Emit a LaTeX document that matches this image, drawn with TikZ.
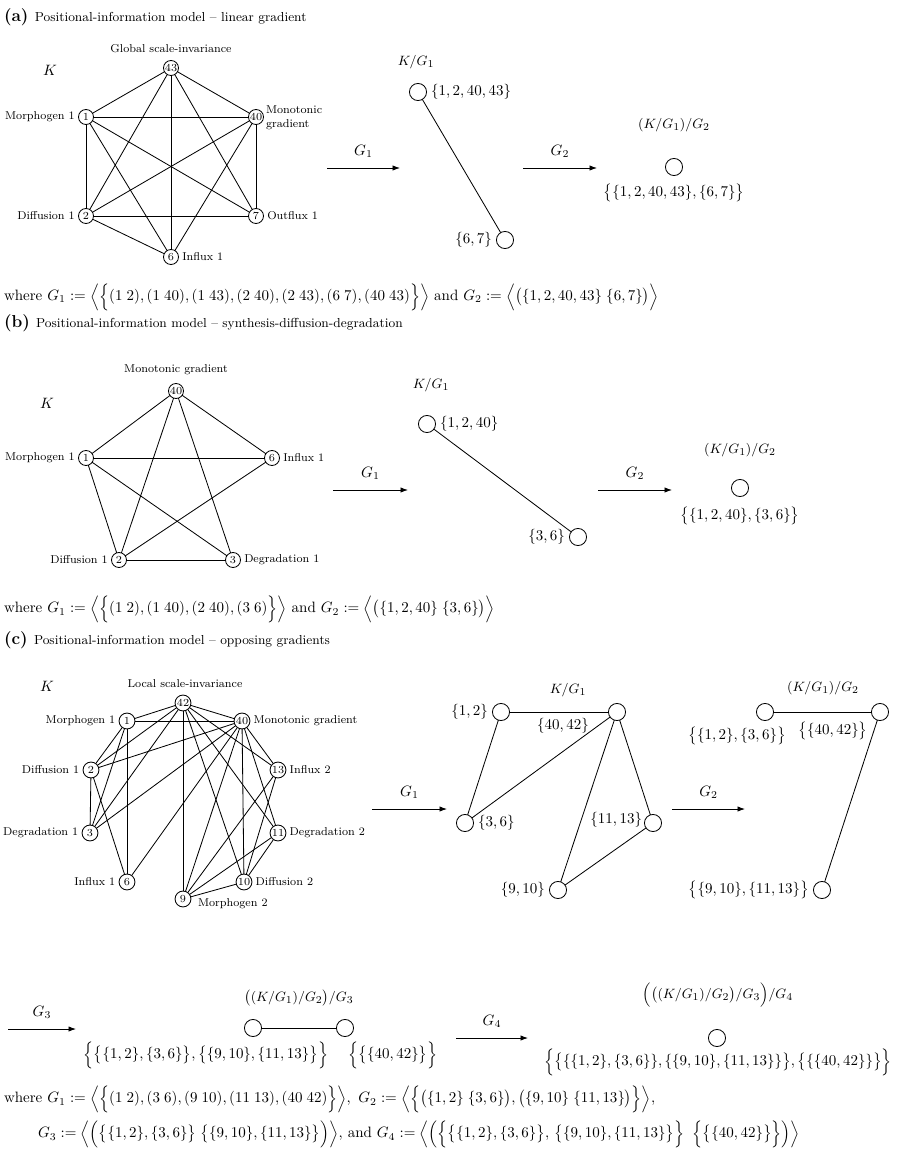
\documentclass[tikz,border=0pt]{standalone}
\usepackage{amsmath}
\usetikzlibrary{arrows.meta,positioning}
\newcommand{\hdlab}[1]{{\fontsize{11.5}{13}\selectfont\bfseries #1}}
\newcommand{\hdtxt}[1]{{\fontsize{8.7}{10}\selectfont #1}}
\begin{document}
\begin{tikzpicture}[x=0.6667pt,y=-0.6667pt,
  every node/.style={inner sep=0pt,outer sep=0pt},
  vtx/.style={circle,draw,line width=0.55pt,minimum size=10pt,inner sep=0pt,font=\fontsize{7.2}{8}\selectfont},
  vtxc/.style={vtx,minimum size=10.6pt},
  qv/.style={circle,draw,line width=0.55pt,minimum size=11.4pt,inner sep=0pt},
  lbl/.style={font=\fontsize{7.6}{9.2}\selectfont},
  setl/.style={font=\fontsize{10}{12}\selectfont},
  qname/.style={font=\fontsize{9.4}{11}\selectfont},
  ln/.style={line width=0.55pt},
  arr/.style={line width=0.55pt,-{Latex[length=5pt,width=3.6pt]}},
  glab/.style={font=\fontsize{10}{12}\selectfont,above=7pt,midway},
  where/.style={font=\fontsize{10}{12}\selectfont,anchor=west}
]
\useasboundingbox (0,0) rectangle (897,1150);

%%%%%%%%%%%%%%%% (a)
\node[anchor=west] (hA) at (4,17) {\hdlab{(a)}\hspace{4.2pt}\hdtxt{Positional-information model -- linear gradient}};
\node (KA) at (50,70) {$K$};
\node[lbl] (gsi) at (171,49) {Global scale-invariance};
\node[vtx] (a43) at (171,68) {43};
\node[vtx] (a1) at (86,117) {1};
\node[vtx] (a40) at (256,117) {40};
\node[vtx] (a2) at (86,216) {2};
\node[vtx] (a7) at (256,216) {7};
\node[vtx] (a6) at (171,257) {6};
\node[lbl,left=2.5pt of a1] (la1) {Morphogen 1};
\node[lbl,anchor=north west,align=left] (la40) at (266,106) {Monotonic\\gradient};
\node[lbl,left=2.5pt of a2] (la2) {Diffusion 1};
\node[lbl,right=2.5pt of a7] (la7) {Outflux 1};
\node[lbl,right=2.5pt of a6] (la6) {Influx 1};
\foreach \u/\v in {a43/a1,a43/a40,a43/a2,a43/a7,a43/a6,a1/a40,a1/a2,a1/a7,a1/a6,a40/a2,a40/a7,a40/a6,a2/a7,a2/a6}
  \draw[ln] (\u) -- (\v);

\coordinate (ag1s) at (327,168); \coordinate (ag1e) at (400,168);
\draw[arr] (ag1s) -- node[glab] (ag1l) {$G_1$} (ag1e);
\node[qname] (KG1a) at (416,62) {$K/G_1$};
\node[qv] (qa1) at (418,92) {};
\node[qv] (qa2) at (505,240) {};
\node[setl,right=3pt of qa1] (lqa1) {$\{1,2,40,43\}$};
\node[setl,left=3pt of qa2] (lqa2) {$\{6,7\}$};
\draw[ln] (qa1) -- (qa2);
\coordinate (ag2s) at (523,168); \coordinate (ag2e) at (597,168);
\draw[arr] (ag2s) -- node[glab] (ag2l) {$G_2$} (ag2e);
\node[qname] (KG2a) at (674,125) {$(K/G_1)/G_2$};
\node[qv] (ra1) at (674,167) {};
\node[setl] (lra1) at (674,193) {$\big\{\{1,2,40,43\},\{6,7\}\big\}$};
\node[where] (wA) at (4,297) {where $G_1 := \Big\langle\Big\{(1\;2),(1\;40),(1\;43),(2\;40),(2\;43),(6\;7),(40\;43)\Big\}\Big\rangle$ and $G_2 := \Big\langle\big(\{1,2,40,43\}\;\{6,7\}\big)\Big\rangle$};

%%%%%%%%%%%%%%%% (b)
\node[anchor=west] (hB) at (4,323) {\hdlab{(b)}\hspace{4.2pt}\hdtxt{Positional-information model -- synthesis-diffusion-degradation}};
\node (KB) at (47,403) {$K$};
\node[lbl] (mgb) at (176,370) {Monotonic gradient};
\node[vtx] (b40) at (176,391) {40};
\node[vtx] (b1) at (86,458) {1};
\node[vtx] (b6) at (272,458) {6};
\node[vtx] (b2) at (119,560) {2};
\node[vtx] (b3) at (233,560) {3};
\node[lbl,left=2.5pt of b1] (lb1) {Morphogen 1};
\node[lbl,right=2.5pt of b6] (lb6) {Influx 1};
\node[lbl,left=2.5pt of b2] (lb2) {Diffusion 1};
\node[lbl,right=2.5pt of b3] (lb3) {Degradation 1};
\foreach \u/\v in {b40/b1,b40/b6,b40/b2,b40/b3,b1/b6,b1/b2,b1/b3,b2/b6,b2/b3}
  \draw[ln] (\u) -- (\v);

\coordinate (bg1s) at (333,490); \coordinate (bg1e) at (408,490);
\draw[arr] (bg1s) -- node[glab] (bg1l) {$G_1$} (bg1e);
\node[qname] (KG1b) at (431,385) {$K/G_1$};
\node[qv] (qb1) at (427,424) {};
\node[qv] (qb2) at (578,537) {};
\node[setl,right=3pt of qb1] (lqb1) {$\{1,2,40\}$};
\node[setl,left=3pt of qb2] (lqb2) {$\{3,6\}$};
\draw[ln] (qb1) -- (qb2);
\coordinate (bg2s) at (598,490); \coordinate (bg2e) at (672,490);
\draw[arr] (bg2s) -- node[glab] (bg2l) {$G_2$} (bg2e);
\node[qname] (KG2b) at (740,450) {$(K/G_1)/G_2$};
\node[qv] (rb1) at (740,488) {};
\node[setl] (lrb1) at (740,516) {$\big\{\{1,2,40\},\{3,6\}\big\}$};
\node[where] (wB) at (4,609) {where $G_1 := \Big\langle\Big\{(1\;2),(1\;40),(2\;40),(3\;6)\Big\}\Big\rangle$ and $G_2 := \Big\langle\big(\{1,2,40\}\;\{3,6\}\big)\Big\rangle$};

%%%%%%%%%%%%%%%% (c)
\node[anchor=west] (hC) at (4,640) {\hdlab{(c)}\hspace{4.2pt}\hdtxt{Positional-information model -- opposing gradients}};
\node (KC) at (47,686) {$K$};
\node[lbl] (lsi) at (185,684) {Local scale-invariance};
\node[vtxc] (c42) at (183,703) {42};
\node[vtxc] (c1) at (127,721) {1};
\node[vtxc] (c40) at (242,721) {40};
\node[vtxc] (c2) at (91,770) {2};
\node[vtxc] (c13) at (278,770) {13};
\node[vtxc] (c3) at (90,833) {3};
\node[vtxc] (c11) at (278,833) {11};
\node[vtxc] (c6) at (127,882) {6};
\node[vtxc] (c10) at (244,882) {10};
\node[vtxc] (c9) at (183,899) {9};
\node[lbl,left=2.5pt of c1] (lc1) {Morphogen 1};
\node[lbl,right=2.5pt of c40] (lc40) {Monotonic gradient};
\node[lbl,left=2.5pt of c2] (lc2) {Diffusion 1};
\node[lbl,right=2.5pt of c13] (lc13) {Influx 2};
\node[lbl,left=2.5pt of c3] (lc3) {Degradation 1};
\node[lbl,right=2.5pt of c11] (lc11) {Degradation 2};
\node[lbl,left=2.5pt of c6] (lc6) {Influx 1};
\node[lbl,right=2.5pt of c10] (lc10) {Diffusion 2};
\node[lbl,anchor=west] (lc9) at (198,904) {Morphogen 2};
\foreach \u/\v in {c42/c1,c42/c40,c42/c2,c42/c3,c42/c9,c42/c10,c42/c11,c42/c13,
  c40/c1,c40/c2,c40/c3,c40/c6,c40/c9,c40/c10,c40/c11,c40/c13,
  c1/c2,c1/c3,c1/c6,c2/c3,c2/c6,c9/c10,c9/c11,c9/c13,c10/c11,c10/c13}
  \draw[ln] (\u) -- (\v);

\coordinate (cg1s) at (372,809); \coordinate (cg1e) at (447,809);
\draw[arr] (cg1s) -- node[glab] (cg1l) {$G_1$} (cg1e);
\node[qname] (KG1c) at (568,690) {$K/G_1$};
\node[qv] (q12) at (501,712) {};
\node[qv] (q4042) at (617,712) {};
\node[qv] (q36) at (465,823) {};
\node[qv] (q1113) at (653,823) {};
\node[qv] (q910) at (558,890) {};
\node[setl,left=3pt of q12] (lq12) {$\{1,2\}$};
\node[setl] (lq4042) at (563,726) {$\{40,42\}$};
\node[setl,right=3pt of q36] (lq36) {$\{3,6\}$};
\node[setl,anchor=east] (lq1113) at (642,820) {$\{11,13\}$};
\node[setl,left=3pt of q910] (lq910) {$\{9,10\}$};
\foreach \u/\v in {q12/q4042,q12/q36,q36/q4042,q4042/q910,q4042/q1113,q910/q1113}
  \draw[ln] (\u) -- (\v);
\coordinate (cg2s) at (672,809); \coordinate (cg2e) at (745,809);
\draw[arr] (cg2s) -- node[glab] (cg2l) {$G_2$} (cg2e);
\node[qname] (KG2c) at (823,688) {$(K/G_1)/G_2$};
\node[qv] (d1) at (765,712) {};
\node[qv] (d2) at (880,712) {};
\node[qv] (d3) at (822,890) {};
\node[setl] (ld1) at (737,736) {$\big\{\{1,2\},\{3,6\}\big\}$};
\node[setl] (ld2) at (833,731) {$\big\{\{40,42\}\big\}$};
\node[setl,left=3pt of d3] (ld3) {$\big\{\{9,10\},\{11,13\}\big\}$};
\draw[ln] (d1) -- (d2);
\draw[ln] (d2) -- (d3);

\coordinate (cg3s) at (8,1029); \coordinate (cg3e) at (76,1029);
\draw[arr] (cg3s) -- node[glab] (cg3l) {$G_3$} (cg3e);
\node[qname] (KG3c) at (299,998) {$\big((K/G_1)/G_2\big)/G_3$};
\node[qv] (e1) at (253,1028) {};
\node[qv] (e2) at (345,1028) {};
\draw[ln] (e1) -- (e2);
\node[setl] (le1) at (206,1055) {$\Big\{\big\{\{1,2\},\{3,6\}\big\},\big\{\{9,10\},\{11,13\}\big\}\Big\}$};
\node[setl] (le2) at (393,1055) {$\Big\{\big\{\{40,42\}\big\}\Big\}$};
\coordinate (cg4s) at (456,1038); \coordinate (cg4e) at (528,1038);
\draw[arr] (cg4s) -- node[glab] (cg4l) {$G_4$} (cg4e);
\node[qname] (KG4c) at (718,995) {$\Big(\big((K/G_1)/G_2\big)/G_3\Big)/G_4$};
\node[qv] (f1) at (717,1038) {};
\node[setl] (lf1) at (718,1062) {$\Big\{\big\{\{\{1,2\},\{3,6\}\},\{\{9,10\},\{11,13\}\}\big\},\big\{\{\{40,42\}\}\big\}\Big\}$};

\node[where] (wC1) at (4,1099) {where $G_1 := \Big\langle\Big\{(1\;2),(3\;6),(9\;10),(11\;13),(40\;42)\Big\}\Big\rangle,\ G_2 := \Big\langle\Big\{\big(\{1,2\}\;\{3,6\}\big),\big(\{9,10\}\;\{11,13\}\big)\Big\}\Big\rangle,$};
\node[where] (wC2) at (38,1134) {$G_3 := \Big\langle\Big(\big\{\{1,2\},\{3,6\}\big\}\;\big\{\{9,10\},\{11,13\}\big\}\Big)\Big\rangle,$ and $G_4 := \Big\langle\Big(\Big\{\big\{\{1,2\},\{3,6\}\big\},\,\big\{\{9,10\},\{11,13\}\big\}\Big\}\;\;\Big\{\big\{\{40,42\}\big\}\Big\}\Big)\Big\rangle$};
\end{tikzpicture}
\end{document}
